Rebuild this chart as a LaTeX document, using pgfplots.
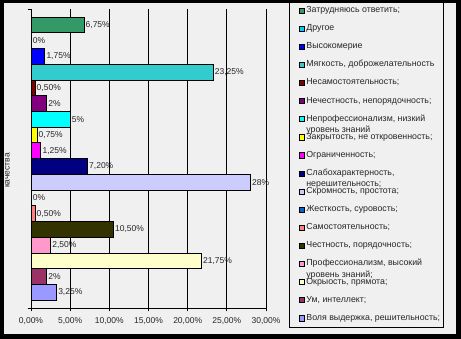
\documentclass[border=0pt]{standalone}
\usepackage{fontspec}
\setmainfont{Liberation Sans}
\usepackage{pgfplots}
\pgfplotsset{compat=1.18}
\definecolor{bg}{HTML}{F0F0F0}
\definecolor{c17}{HTML}{339966}
\definecolor{c16}{HTML}{00CCFF}
\definecolor{c15}{HTML}{0000FF}
\definecolor{c14}{HTML}{33CCCC}
\definecolor{c13}{HTML}{800000}
\definecolor{c12}{HTML}{800080}
\definecolor{c11}{HTML}{00FFFF}
\definecolor{c10}{HTML}{FFFF00}
\definecolor{c9}{HTML}{FF00FF}
\definecolor{c8}{HTML}{000080}
\definecolor{c7}{HTML}{CCCCFF}
\definecolor{c6}{HTML}{0066CC}
\definecolor{c5}{HTML}{FF8080}
\definecolor{c4}{HTML}{333300}
\definecolor{c3}{HTML}{FF99CC}
\definecolor{c2}{HTML}{FFFFCC}
\definecolor{c1}{HTML}{993366}
\definecolor{c0}{HTML}{9999FF}
\newcommand{\legone}[1]{\smash{\raisebox{-2.8pt}{#1}}}
\newcommand{\legtwo}[2]{\smash{\raisebox{-2.8pt}{\parbox[t]{140pt}{\setlength{\baselineskip}{11.5pt}#1\\#2}}}}
\pgfplotsset{sq/.style={fill=#1, draw=black, line width=0.6pt,
  legend image code/.code={\draw[fill=#1,draw=black,line width=0.5pt] (0pt,-2.6pt) rectangle (5.2pt,2.6pt);}}}
\begin{document}
\begin{tikzpicture}
\useasboundingbox (0,0) rectangle (461pt,-339pt);
\fill[black] (0,0) rectangle (461pt,-339pt);
\fill[bg] (4pt,-3pt) rectangle (456pt,-334pt);
\draw[black, line width=0.8pt] (289pt,-2pt) rectangle (443pt,-327pt);
\begin{axis}[
  at={(31pt,-308pt)}, anchor=south west,
  scale only axis, width=235pt, height=299pt,
  xbar, bar width=1,
  every axis plot/.append style={bar shift=0pt},
  xmin=0, xmax=30, ymin=-1, ymax=18,
  axis lines*=left,
  axis line style={black, line width=0.8pt},
  xtick={0,5,10,15,20,25,30},
  xticklabels={{0,00\%},{5,00\%},{10,00\%},{15,00\%},{20,00\%},{25,00\%},{30,00\%}},
  ytick={-1,18}, yticklabels={},
  tick align=outside, major tick length=3.5pt,
  tick style={black, line width=0.8pt},
  xmajorgrids, grid style={black, line width=0.8pt},
  xticklabel style={font=\fontsize{8.5}{10}\selectfont, text=black!85, yshift=-3pt},
  ylabel={качества},
  every axis y label/.style={at={(axis description cs:-0.1,0.46)}, rotate=90, anchor=center, font=\fontsize{8.5}{10}\selectfont, text=black!85},
  nodes near coords, point meta=explicit symbolic,
  every node near coord/.append style={font=\fontsize{8.5}{10}\selectfont, text=black!85, anchor=west, inner sep=1.5pt},
  legend cell align=left,
  legend style={at={(axis description cs:1.1404,1.0051)}, anchor=north west, draw=none, fill=none,
    inner sep=0pt, row sep=12.4pt, column sep=1.5pt,
    nodes={inner sep=0pt, font=\fontsize{8.8}{10}\selectfont, text=black!85}},
]
\addplot[sq=c17] coordinates {(6.75,17) [6,75\%]};
\addlegendentry{\legone{Затрудняюсь ответить;}}
\addplot[sq=c16] coordinates {(0,16) [0\%]};
\addlegendentry{\legone{Другое}}
\addplot[sq=c15] coordinates {(1.75,15) [1,75\%]};
\addlegendentry{\legone{Высокомерие}}
\addplot[sq=c14] coordinates {(23.25,14) [23,25\%]};
\addlegendentry{\legone{Мягкость, доброжелательность}}
\addplot[sq=c13] coordinates {(0.5,13) [0,50\%]};
\addlegendentry{\legone{Несамостоятельность;}}
\addplot[sq=c12] coordinates {(2,12) [2\%]};
\addlegendentry{\legone{Нечестность, непорядочность;}}
\addplot[sq=c11] coordinates {(5,11) [5\%]};
\addlegendentry{\legtwo{Непрофессионализм, низкий}{уровень знаний}}
\addplot[sq=c10] coordinates {(0.75,10) [0,75\%]};
\addlegendentry{\legone{Закрытость, не откровенность;}}
\addplot[sq=c9] coordinates {(1.25,9) [1,25\%]};
\addlegendentry{\legone{Ограниченность;}}
\addplot[sq=c8] coordinates {(7.2,8) [7,20\%]};
\addlegendentry{\legtwo{Слабохарактерность,}{нерешительность;}}
\addplot[sq=c7] coordinates {(28,7) [28\%]};
\addlegendentry{\legone{Скромность, простота;}}
\addplot[sq=c6] coordinates {(0,6) [0\%]};
\addlegendentry{\legone{Жесткость, суровость;}}
\addplot[sq=c5] coordinates {(0.5,5) [0,50\%]};
\addlegendentry{\legone{Самостоятельность;}}
\addplot[sq=c4] coordinates {(10.5,4) [10,50\%]};
\addlegendentry{\legone{Честность, порядочность;}}
\addplot[sq=c3] coordinates {(2.5,3) [2,50\%]};
\addlegendentry{\legtwo{Профессионализм, высокий}{уровень знаний;}}
\addplot[sq=c2] coordinates {(21.75,2) [21,75\%]};
\addlegendentry{\legone{Окрыость, прямота;}}
\addplot[sq=c1] coordinates {(2,1) [2\%]};
\addlegendentry{\legone{Ум, интеллект;}}
\addplot[sq=c0] coordinates {(3.25,0) [3,25\%]};
\addlegendentry{\legone{Воля выдержка, решительность;}}
\end{axis}
\end{tikzpicture}
\end{document}
